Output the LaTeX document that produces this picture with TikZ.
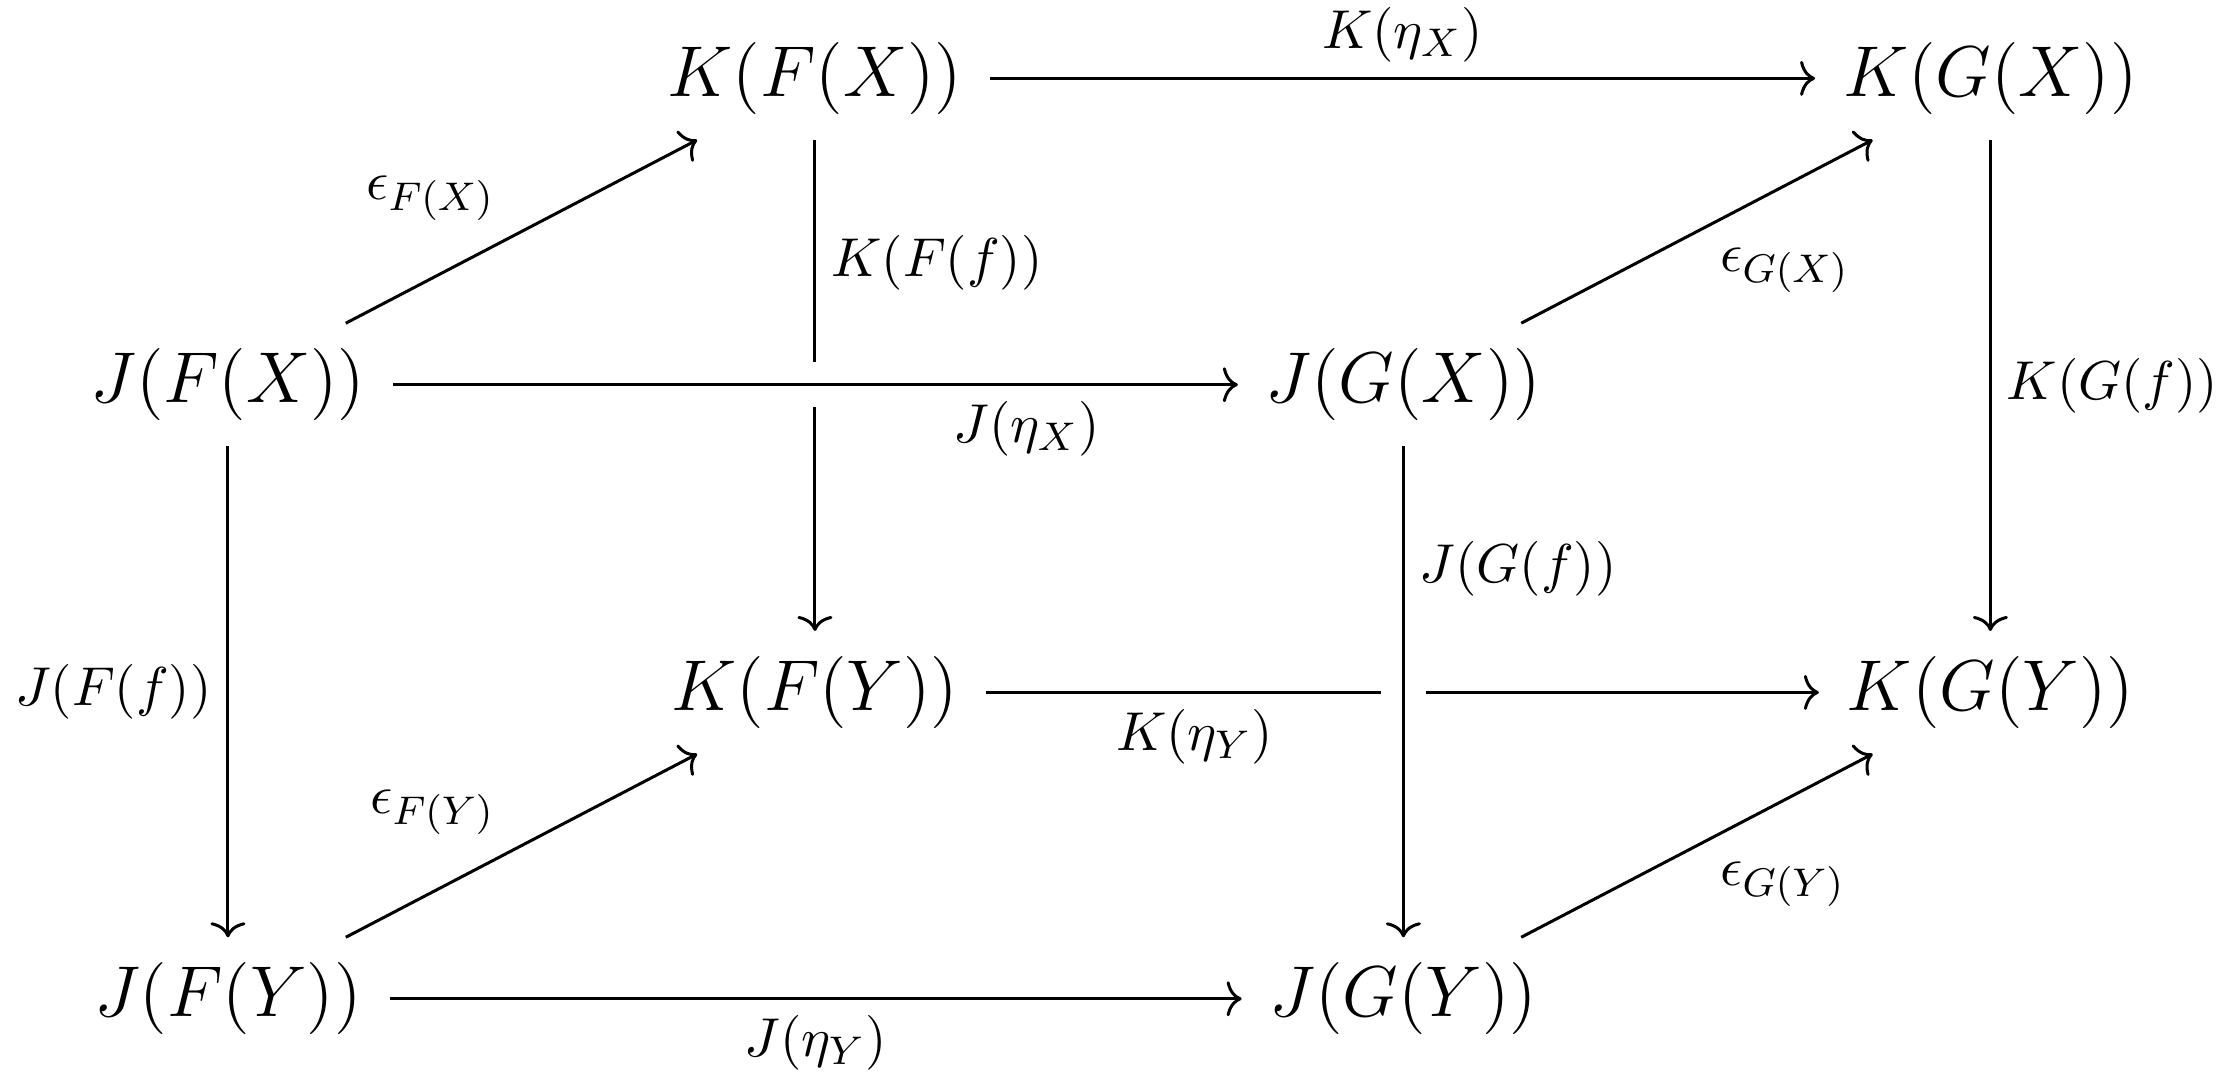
\documentclass[tikz,border=0pt]{standalone}
\usetikzlibrary{arrows.meta}
\begin{document}
\begin{tikzpicture}[x=0.28495pt, y=-0.28495pt]
\tikzset{
  obj/.style={font=\Large, inner xsep=5.4pt, inner ysep=4.9pt},
  arr/.style={-{Computer Modern Rightarrow[length=3pt, width=7pt]}, line width=0.6pt},
  lab/.style={font=\fontsize{11.2}{13}\selectfont, inner sep=3pt},
  labUL/.style={lab, above left, xshift=-2pt, yshift=-1.1pt},
  labDR/.style={lab, below right, xshift=1.4pt},
  over/.style={preaction={draw=white, line width=9.1pt, -}},
}
\useasboundingbox (0,0) rectangle (1568,757);
\node[obj] (KFX) at (572,55)  {$K(F(X))$};
\node[obj] (KGX) at (1397,55) {$K(G(X))$};
\node[obj] (JFX) at (160,270) {$J(F(X))$};
\node[obj] (JGX) at (985,270) {$J(G(X))$};
\node[obj] (KFY) at (572,486) {$K(F(Y))$};
\node[obj] (KGY) at (1397,486) {$K(G(Y))$};
\node[obj] (JFY) at (160,701) {$J(F(Y))$};
\node[obj] (JGY) at (985,701) {$J(G(Y))$};

\draw[arr] (KFX) -- node[lab, above] {$K(\eta_X)$} (KGX);
\draw[arr] (JFX) -- node[labUL] {$\epsilon_{F(X)}$} (KFX);
\draw[arr] (KFX) -- node[lab, right, pos=0.25] {$K(F(f))$} (KFY);
\draw[arr, over] (JFX) -- node[lab, below, pos=0.75] {$J(\eta_X)$} (JGX);
\draw[arr] (JGX) -- node[labDR] {$\epsilon_{G(X)}$} (KGX);
\draw[arr] (KGX) -- node[lab, right] {$K(G(f))$} (KGY);
\draw[arr] (JFX) -- node[lab, left] {$J(F(f))$} (JFY);
\draw[arr] (KFY) -- node[lab, below, pos=0.25] {$K(\eta_Y)$} (KGY);
\draw[arr, over] (JGX) -- node[lab, right, pos=0.25] {$J(G(f))$} (JGY);
\draw[arr] (JFY) -- node[labUL] {$\epsilon_{F(Y)}$} (KFY);
\draw[arr] (JGY) -- node[labDR] {$\epsilon_{G(Y)}$} (KGY);
\draw[arr] (JFY) -- node[lab, below] {$J(\eta_Y)$} (JGY);
\end{tikzpicture}
\end{document}
